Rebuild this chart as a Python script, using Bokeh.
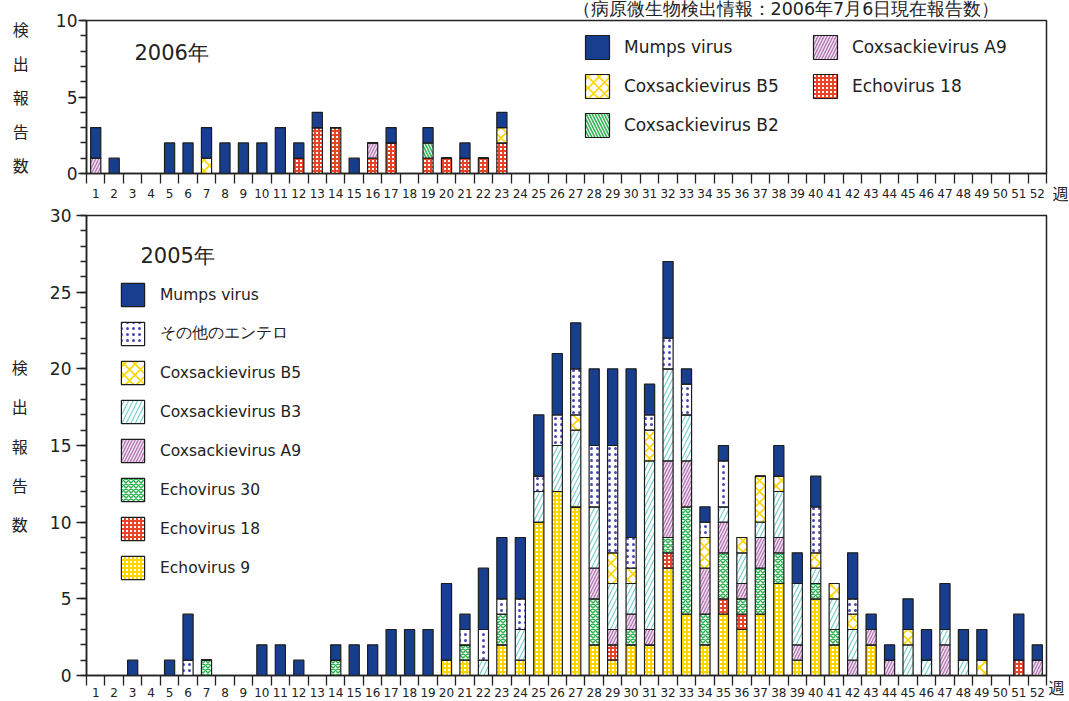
from bokeh.plotting import figure
from bokeh.models import (Range1d, FixedTicker, SingleIntervalTicker, Legend,
                          LegendItem, Label, ColumnDataSource)
from bokeh.layouts import column
from bokeh.embed import file_html
from bokeh.resources import INLINE

# ---------------- data ----------------
weeks_2005 = list(range(1, 53))
weeks_2006 = list(range(1, 24))
week_boundaries = [w - 0.5 for w in weeks_2005] + [52.5]

# 2006 (weeks 1-23)
mumps_2006 = [2, 1, 0, 0, 2, 2, 2, 2, 2, 2, 3, 1, 1, 0, 1, 0, 1, 0, 1, 0, 1, 0, 1]
coxb5_2006 = [0, 0, 0, 0, 0, 0, 1, 0, 0, 0, 0, 0, 0, 0, 0, 0, 0, 0, 0, 0, 0, 0, 1]
coxb2_2006 = [0, 0, 0, 0, 0, 0, 0, 0, 0, 0, 0, 0, 0, 0, 0, 0, 0, 0, 1, 0, 0, 0, 0]
coxa9_2006 = [1, 0, 0, 0, 0, 0, 0, 0, 0, 0, 0, 0, 0, 0, 0, 1, 0, 0, 0, 0, 0, 0, 0]
echo18_2006 = [0, 0, 0, 0, 0, 0, 0, 0, 0, 0, 0, 1, 3, 3, 0, 1, 2, 0, 1, 1, 1, 1, 2]

# 2005 (weeks 1-52)
mumps_2005 = [0, 0, 1, 0, 1, 3, 0, 0, 0, 2,
              2, 1, 0, 1, 2, 2, 3, 3, 3, 5,
              1, 4, 4, 4, 4, 4, 3, 5, 5, 11,
              2, 5, 1, 1, 1, 0, 0, 2, 2, 2,
              0, 3, 1, 1, 2, 2, 3, 2, 2, 0,
              3, 1]
other_2005 = [0, 0, 0, 0, 0, 1, 0, 0, 0, 0,
              0, 0, 0, 0, 0, 0, 0, 0, 0, 0,
              1, 2, 1, 2, 1, 2, 3, 4, 7, 2,
              1, 2, 2, 1, 3, 0, 0, 0, 0, 3,
              0, 1, 0, 0, 0, 0, 0, 0, 0, 0,
              0, 0]
coxb5_2005 = [0, 0, 0, 0, 0, 0, 0, 0, 0, 0,
              0, 0, 0, 0, 0, 0, 0, 0, 0, 0,
              0, 0, 0, 0, 0, 0, 1, 0, 2, 1,
              2, 0, 0, 2, 0, 1, 3, 1, 0, 1,
              1, 1, 0, 0, 1, 0, 0, 0, 1, 0,
              0, 0]
coxb3_2005 = [0, 0, 0, 0, 0, 0, 0, 0, 0, 0,
              0, 0, 0, 0, 0, 0, 0, 0, 0, 0,
              0, 1, 0, 2, 2, 3, 5, 4, 3, 2,
              11, 6, 3, 0, 1, 2, 1, 3, 4, 1,
              2, 2, 0, 0, 2, 1, 1, 1, 0, 0,
              0, 0]
coxa9_2005 = [0, 0, 0, 0, 0, 0, 0, 0, 0, 0,
              0, 0, 0, 0, 0, 0, 0, 0, 0, 0,
              0, 0, 0, 0, 0, 0, 0, 2, 1, 1,
              1, 5, 3, 3, 2, 1, 2, 1, 1, 0,
              0, 1, 1, 1, 0, 0, 2, 0, 0, 0,
              0, 1]
echo30_2005 = [0, 0, 0, 0, 0, 0, 1, 0, 0, 0,
               0, 0, 0, 1, 0, 0, 0, 0, 0, 0,
               1, 0, 2, 0, 0, 0, 0, 3, 0, 1,
               0, 1, 7, 2, 3, 1, 3, 2, 0, 1,
               1, 0, 0, 0, 0, 0, 0, 0, 0, 0,
               0, 0]
echo18_2005 = [0, 0, 0, 0, 0, 0, 0, 0, 0, 0,
               0, 0, 0, 0, 0, 0, 0, 0, 0, 0,
               0, 0, 0, 0, 0, 0, 0, 0, 1, 0,
               0, 1, 0, 0, 1, 1, 0, 0, 0, 0,
               0, 0, 0, 0, 0, 0, 0, 0, 0, 0,
               1, 0]
echo9_2005 = [0, 0, 0, 0, 0, 0, 0, 0, 0, 0,
              0, 0, 0, 0, 0, 0, 0, 0, 0, 1,
              1, 0, 2, 1, 10, 12, 11, 2, 1, 2,
              2, 7, 4, 2, 4, 3, 4, 6, 1, 5,
              2, 0, 2, 0, 0, 0, 0, 0, 0, 0,
              0, 0]

names_2006 = ["echo18", "coxa9", "coxb2", "coxb5", "mumps"]
labels_2006 = {"mumps": "Mumps virus", "coxb5": "Coxsackievirus B5",
               "coxb2": "Coxsackievirus B2", "coxa9": "Coxsackievirus A9",
               "echo18": "Echovirus 18"}
names_2005 = ["echo9", "echo18", "echo30", "coxa9", "coxb3", "coxb5", "other", "mumps"]
labels_2005 = {"mumps": "Mumps virus", "other": "その他のエンテロ",
               "coxb5": "Coxsackievirus B5", "coxb3": "Coxsackievirus B3",
               "coxa9": "Coxsackievirus A9", "echo30": "Echovirus 30",
               "echo18": "Echovirus 18", "echo9": "Echovirus 9"}
ylabel_text = "検\n出\n報\n告\n数"
week_unit = "週"
source_note = "（病原微生物検出情報：2006年7月6日現在報告数）"

# ---------------- styles ----------------
STY = {
    "mumps":  dict(fill="#183E8F", hatch="blank", hc="#183E8F", hs=6, hw=1),
    "other":  dict(fill="white", hatch="dot", hc="#4848b8", hs=6, hw=1),
    "coxb5":  dict(fill="white", hatch="diagonal_cross", hc="#FFD400", hs=11, hw=1.6),
    "coxb3":  dict(fill="white", hatch="right_diagonal_line", hc="#7ccfcf", hs=9, hw=1.2),
    "coxb2":  dict(fill="white", hatch="left_diagonal_line", hc="#2fb352", hs=6, hw=1.6),
    "coxa9":  dict(fill="#b57ab5", hatch="right_diagonal_line", hc="#f2e4f2", hs=6, hw=1.4),
    "echo30": dict(fill="white", hatch="diagonal_cross", hc="#2fb352", hs=5, hw=1.5),
    "echo18": dict(fill="white", hatch="cross", hc="#e8442a", hs=4, hw=2),
    "echo9":  dict(fill="white", hatch="cross", hc="#FFD600", hs=4, hw=2),
}
AX = "#222222"
FONT = "DejaVu Sans"
CJK = "Noto Sans CJK JP"


def make_fig(height, ymax, left, right, top, bottom):
    p = figure(width=1069, height=height, x_range=Range1d(0.5, 52.5),
               y_range=Range1d(0, ymax), output_backend="svg",
               toolbar_location=None, tools="", title=None,
               min_border_left=left, min_border_right=right,
               min_border_top=top, min_border_bottom=bottom)
    p.xgrid.grid_line_color = None
    p.ygrid.grid_line_color = None
    p.outline_line_color = AX
    p.outline_line_width = 1.5
    p.outline_line_alpha = 1
    p.background_fill_color = "white"
    p.border_fill_color = "white"
    return p


def style_axes(p, xstand, ytick, ystand, lab_standoff, lab_lh):
    xa = p.xaxis[0]
    xa.ticker = FixedTicker(ticks=weeks_2005, minor_ticks=week_boundaries)
    xa.major_tick_out = 0
    xa.major_tick_in = 0
    xa.minor_tick_out = 10
    xa.minor_tick_in = 0
    xa.major_label_standoff = xstand
    xa.major_label_text_font = FONT
    xa.major_label_text_font_size = "12px"
    xa.major_label_text_color = AX
    xa.axis_line_color = AX
    xa.axis_line_width = 1.5
    xa.major_tick_line_color = AX
    xa.minor_tick_line_color = AX
    xa.minor_tick_line_width = 1.3

    ya = p.yaxis[0]
    ya.ticker = SingleIntervalTicker(interval=5, num_minor_ticks=5)
    ya.major_tick_out = ytick
    ya.major_tick_in = 0
    ya.minor_tick_out = 6
    ya.minor_tick_in = 0
    ya.major_label_standoff = ystand
    ya.major_label_text_font = FONT
    ya.major_label_text_font_size = "17px"
    ya.major_label_text_color = AX
    ya.axis_line_color = AX
    ya.axis_line_width = 1.5
    ya.major_tick_line_color = AX
    ya.major_tick_line_width = 1.3
    ya.minor_tick_line_color = AX
    ya.minor_tick_line_width = 1.3
    ya.axis_label = ylabel_text
    ya.axis_label_orientation = "horizontal"
    ya.axis_label_text_font = CJK
    ya.axis_label_text_font_style = "normal"
    ya.axis_label_text_font_size = "16px"
    ya.axis_label_text_color = AX
    ya.axis_label_standoff = lab_standoff
    ya.axis_label_text_line_height = lab_lh


def stacked(p, weeks, names, data):
    src = ColumnDataSource(dict(week=weeks, **{n: data[n] for n in names}))
    rs = p.vbar_stack(
        names, x="week", width=0.55, source=src,
        fill_color=[STY[n]["fill"] for n in names],
        hatch_pattern=[STY[n]["hatch"] for n in names],
        hatch_color=[STY[n]["hc"] for n in names],
        hatch_scale=[STY[n]["hs"] for n in names],
        hatch_weight=[STY[n]["hw"] for n in names],
        line_color="#1c1c1c", line_width=1.2)
    return dict(zip(names, rs))


def add_legend(p, rmap, order, labels, loc, size, glyph, spacing, standoff):
    lg = Legend(items=[LegendItem(label=labels[n], renderers=[rmap[n]]) for n in order],
                location=loc, orientation="vertical")
    lg.glyph_width = glyph
    lg.glyph_height = glyph
    lg.label_height = glyph
    lg.spacing = spacing
    lg.label_standoff = standoff
    lg.padding = 0
    lg.margin = 0
    lg.border_line_alpha = 0
    lg.background_fill_alpha = 0
    lg.label_text_font = FONT
    lg.label_text_font_size = size
    lg.label_text_color = AX
    p.add_layout(lg)


def txt(p, x, y, text, size, align="center", font=CJK, place="center"):
    p.add_layout(Label(x=x, y=y, x_units="screen", y_units="screen", text=text,
                       text_align=align, text_baseline="middle",
                       text_font=font, text_font_size=size, text_color=AX), place)


# ---------------- 2006 chart ----------------
p1 = make_fig(205, 10, 84, 23, 20, 32)
style_axes(p1, 5, 8, 1, 24, 1.41)
r06 = stacked(p1, weeks_2006, names_2006,
              dict(mumps=mumps_2006, coxb5=coxb5_2006, coxb2=coxb2_2006,
                   coxa9=coxa9_2006, echo18=echo18_2006))
add_legend(p1, r06, ["mumps", "coxb5", "coxb2"], labels_2006, (496, 33), "17px", 30, 9, 12)
add_legend(p1, r06, ["coxa9", "echo18"], labels_2006, (724, 72), "17px", 30, 9, 12)
txt(p1, 48, 120.5, "2006年", "21px", align="left", font=FONT)
txt(p1, 14, -19.5, week_unit, "16px", place="right")
txt(p1, 486, 11.5, source_note, "17.5px", align="left", font=FONT, place="above")

# ---------------- 2005 chart ----------------
p2 = make_fig(496, 30, 86, 19, 10, 26)
style_axes(p2, 2, 10, 5, 19, 1.63)
r05 = stacked(p2, weeks_2005, names_2005,
              dict(mumps=mumps_2005, other=other_2005, coxb5=coxb5_2005,
                   coxb3=coxb3_2005, coxa9=coxa9_2005, echo30=echo30_2005,
                   echo18=echo18_2005, echo9=echo9_2005))
add_legend(p2, r05, ["mumps", "other", "coxb5", "coxb3", "coxa9", "echo30", "echo18", "echo9"],
           labels_2005, (32, 93), "15.5px", 29, 10, 13)
txt(p2, 54, 420, "2005年", "21px", align="left", font=FONT)
txt(p2, 10, -11, week_unit, "16px", place="right")

layout = column(p1, p2)
open("out.html", "w").write(file_html(layout, INLINE))
